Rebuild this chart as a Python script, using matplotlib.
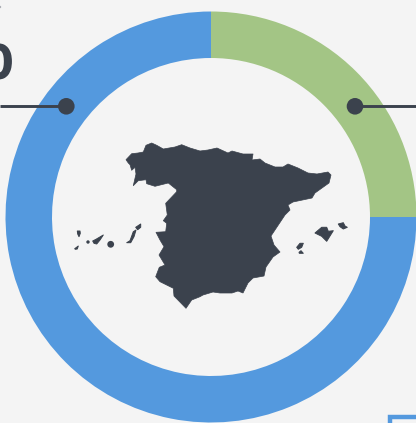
import matplotlib
matplotlib.use("Agg")
import matplotlib.pyplot as plt
import matplotlib.patheffects as pe
from matplotlib.patches import Polygon, Circle, Rectangle

# share of each slice, clockwise from the top
values = [25, 75]
colors = ["#a3c585", "#5499de"]

dark = "#3b424d"
bg = "#f4f4f4"

# outlines, traced in picture pixels (y goes down)
spain = [(126,159.7),(131.7,153.7),(138,153),(143.3,152),(146,145.3),(151.7,143),(156.7,145.3),(163.3,149),(175,147),(181.7,144.7),
         (190,148),(200,151),(208,150),(217,148),(228,153),(232,151),(243,154),(253,154),(252,160),(260,159),
         (265,163),(275,167),(283,167),(288,164),(298,168),(308,173),(317,174),(328,172),(331,175),(329,183),
         (315,193),(312,198),(293,202),(288,205),(290,210),(285,215),(271,236),(274,245),(280,252),(273,257),
         (266,267),(264,276),(253,278),(248,283),(243,293),(238,291),(232,293),(220,293),(213,292),(203,295),
         (200,296.7),(191.7,300),(186,308.3),(174,296),(173.3,288.3),(160,281.7),(155.7,276.7),(159.3,267.3),(165,265),
         (159,255),(164,246.7),(160,240),(156,232.3),(165.7,231.7),(166.7,223.3),(163.3,220.7),(167.3,215),(165.7,203.3),
         (176.7,191.7),(176.7,189.7),(168.3,183),(155,186.3),(146.7,183.7),(146,179.7),(138.3,180.7),(133.3,185.7),
         (136,174),(135,167.3),(131.7,170.3),(130,164.7),(128.3,163)]
la_palma = [(77.3,231),(80,231),(80.3,233.3),(79,236.7),(77.7,234)]
el_hierro = [(74.7,248.7),(78.3,246),(77.3,249),(75.3,249.3)]
tenerife = [(92.7,241),(96,239.3),(103.3,235),(100,240),(96.7,244),(94,243.3)]
fuerteventura = [(126.7,242.7),(130,240.7),(133.3,231.7),(136,230),(134,236.7),(130.7,242.7)]
lanzarote = [(135.7,227.3),(140.7,224),(140.7,227.3),(137.7,229.7)]
mallorca = [(315,233),(321.7,227.3),(326.7,227.3),(328.3,231.3),(333.3,230.7),(326.7,241.3),(321.7,236.3)]
menorca = [(338.3,224),(343.3,222.7),(345,226),(347.3,227.3),(343.3,229),(340,226.7)]
ibiza = [(296.7,247.3),(300,243.3),(303.3,243.3),(301.7,247.3),(298.3,249.3)]
formentera = [(299,252.3),(301,250.7),(303.3,253.3),(299.3,253.3)]
islands = [la_palma, el_hierro, tenerife, fuerteventura, lanzarote, mallorca, menorca, ibiza, formentera]
round_islands = [(88,242,1.7), (110.7,244.3,3.4)]

def flip(pts):
    return [(x, 423 - y) for x, y in pts]

fig = plt.figure(figsize=(4.16, 4.23), dpi=100, facecolor=bg)
ax = fig.add_axes([0, 0, 1, 1])

ax.pie(values, colors=colors, startangle=90, counterclock=False, radius=205.5,
       center=(211, 423 - 217), wedgeprops=dict(width=46.5, linewidth=0))

# pointer lines with dots
ax.plot([0, 66], [423 - 106.3, 423 - 106.3], color=dark, lw=2.1, solid_capstyle="butt")
ax.plot([355, 416], [423 - 106.3, 423 - 106.3], color=dark, lw=2.1, solid_capstyle="butt")
ax.add_patch(Circle((66.3, 423 - 106.3), 8.3, color=dark, lw=0))
ax.add_patch(Circle((355, 423 - 106.3), 8.3, color=dark, lw=0))

# map, small edge so the thin islands keep their weight
ax.add_patch(Polygon(flip(spain), closed=True, facecolor=dark, edgecolor=dark, lw=0.5, joinstyle="round"))
for isl in islands:
    ax.add_patch(Polygon(flip(isl), closed=True, facecolor=dark, edgecolor=dark, lw=0.7, joinstyle="round"))
for x, y, r in round_islands:
    ax.add_patch(Circle((x, 423 - y), r, color=dark, lw=0))

# cut off number on the left edge
ax.text(12, 423 - 78, "0", color=dark, fontsize=33, fontweight="bold", family="Lato",
        ha="right", va="baseline",
        path_effects=[pe.withStroke(linewidth=1.6, foreground=dark)])

# speck of cut off text top left
ax.add_patch(Circle((0, 423 - 7), 1.2, color="#a9adb3", lw=0))

# corner of the box bottom right
ax.add_patch(Rectangle((390, -10), 60, 10 + 423 - 417, fill=False, edgecolor="#5499de", lw=3.2))

ax.set_xlim(0, 416)
ax.set_ylim(0, 423)
ax.set_aspect("auto")
ax.axis("off")

fig.savefig("out.png", dpi=100, facecolor=bg)
